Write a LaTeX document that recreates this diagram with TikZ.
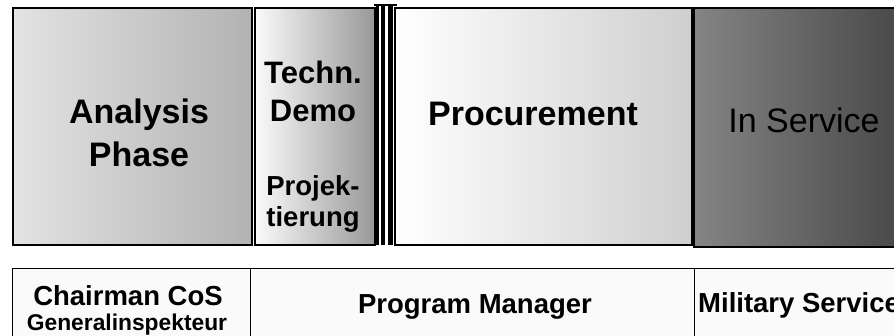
\documentclass[tikz,border=0pt]{standalone}
\usepackage{fontspec}
\setmainfont{Liberation Sans}

\begin{document}
\begin{tikzpicture}[x=1pt, y=-1pt,
	phase/.style={draw, line width=1.5pt, anchor=north west, inner sep=0pt},
	role/.style={draw, line width=1.3pt, anchor=north west, inner sep=0pt, fill=black!2},
	bigbold/.style={font=\fontsize{34}{43}\selectfont\bfseries, align=center},
	midbold/.style={font=\fontsize{31}{38}\selectfont\bfseries, align=center},
	smallbold/.style={font=\fontsize{27.5}{31}\selectfont\bfseries, align=center}]
	\useasboundingbox (0,0) rectangle (894,335);
	% phases
	\node (analysis) [phase, minimum width=239pt, minimum height=237pt, left color=black!11, right color=black!30] at (12,7) {};
	\node (demo) [phase, minimum width=120pt, minimum height=237pt, left color=black!2, right color=black!40] at (254,7) {};
	\node (procure) [phase, minimum width=297pt, minimum height=237pt, left color=white, right color=black!19] at (394,7) {};
	\node (service) [phase, minimum width=210pt, minimum height=239pt, left color=black!48, right color=black!72] at (693,7) {};
	% triple bar
	\fill (376,5) rectangle (379,245);
	\fill (381,5) rectangle (385,245);
	\fill (388,5) rectangle (393,245);
	\fill (374,4) rectangle (397,6);
	\node (analysislbl) [bigbold] at (139,133) {Analysis\\Phase};
	\node (demolbl) [midbold] at (313,91) {Techn.\\Demo};
	\node (projlbl) [smallbold] at (313,204) {Projek-\\tierung};
	\node (procurelbl) [bigbold, anchor=base] at (533,125) {Procurement};
	\node (servicelbl) [font=\fontsize{34}{41}\selectfont, anchor=base] at (804,132) {In Service};
	% responsibilities
	\node (chair) [role, minimum width=238pt, minimum height=80pt] at (12,268) {};
	\node (pm) [role, minimum width=444pt, minimum height=80pt] at (250,268) {};
	\node (mil) [role, minimum width=210pt, minimum height=80pt] at (694,268) {};
	\node (chairlbl) [smallbold, anchor=base] at (128,305) {Chairman CoS};
	\node (chairsub) [font=\fontsize{22.8}{27}\selectfont\bfseries, anchor=base] at (127,330) {Generalinspekteur};
	\node (pmlbl) [smallbold, anchor=base] at (475,313) {Program Manager};
	\node (millbl) [smallbold, anchor=base west, inner sep=0pt] at (698,312) {Military Service};
\end{tikzpicture}
\end{document}
